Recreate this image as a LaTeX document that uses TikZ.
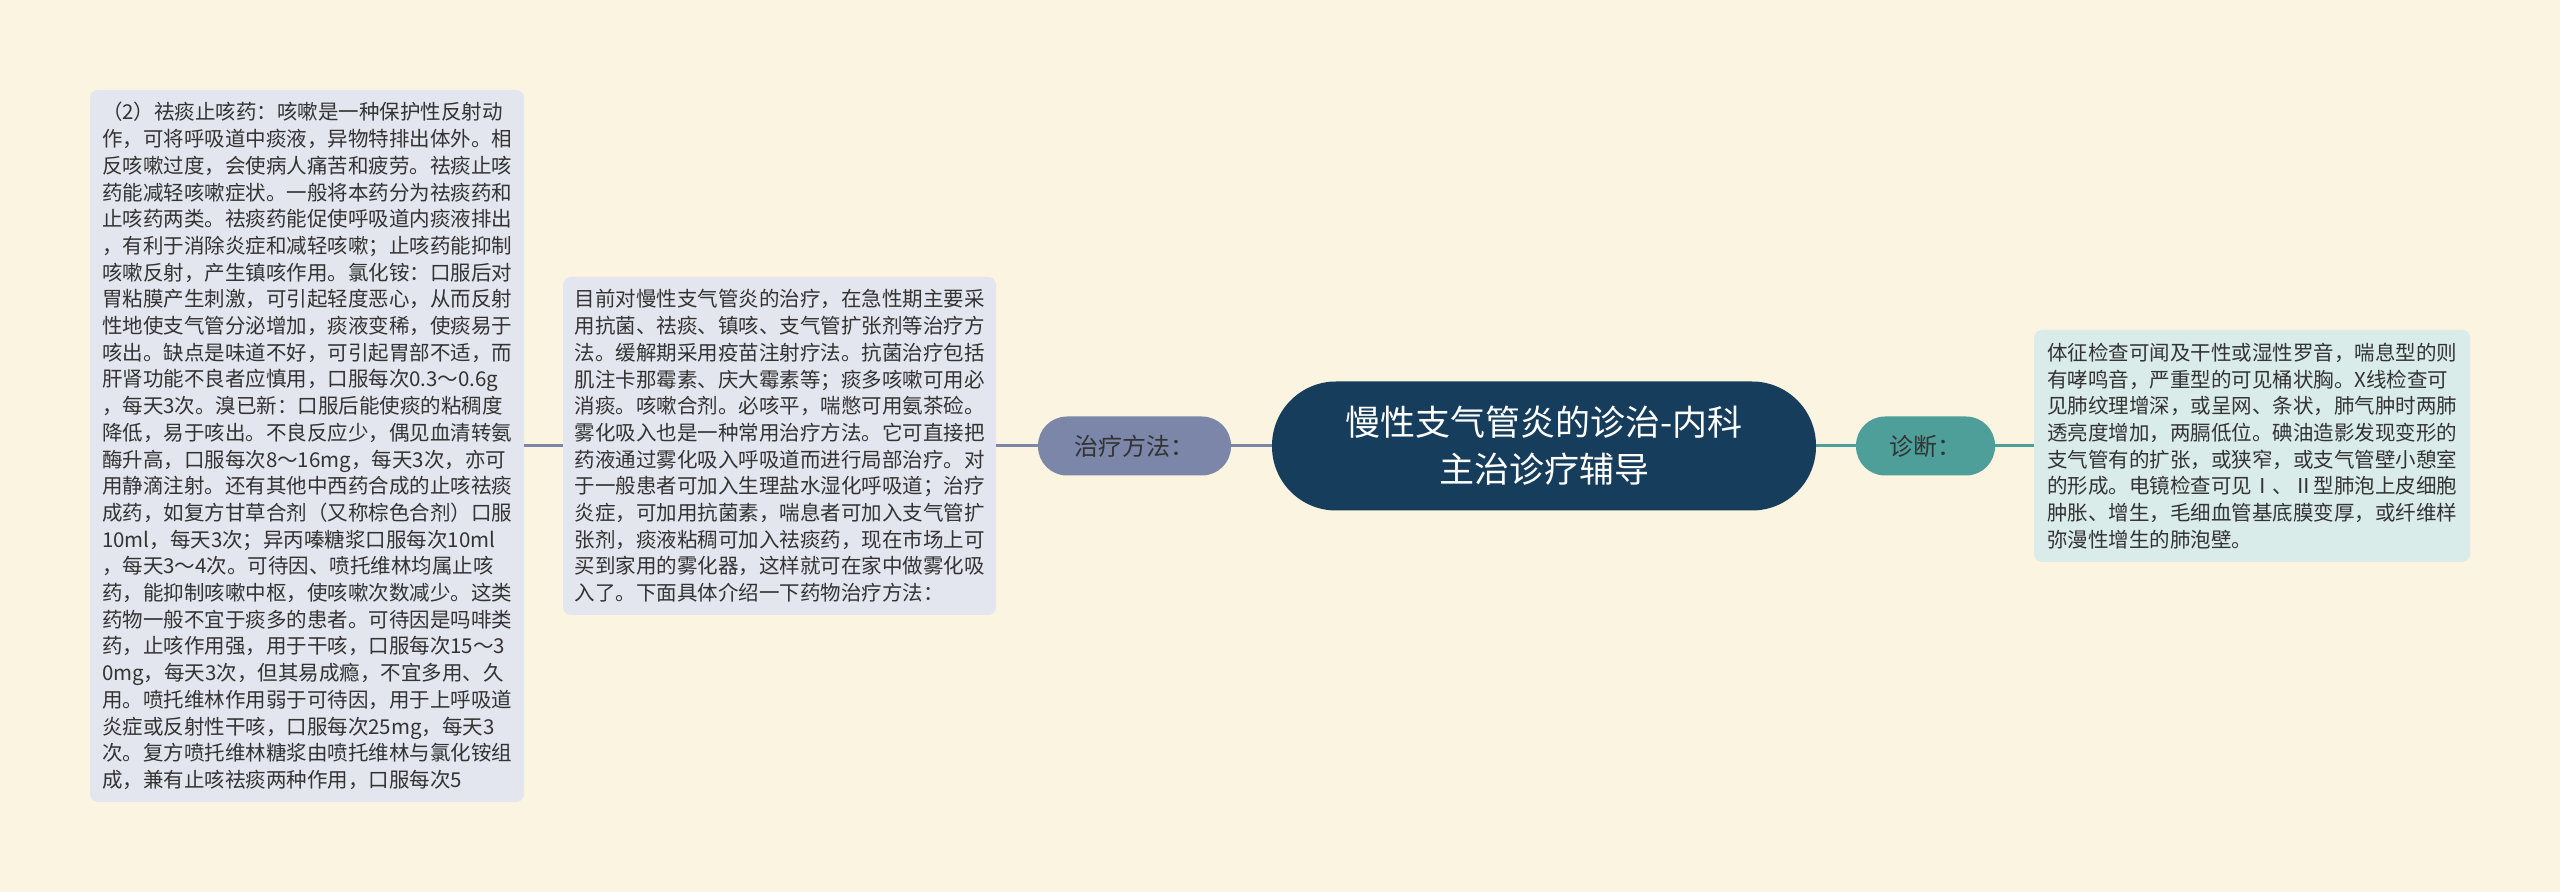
\documentclass[tikz,border=0pt]{standalone}
\usepackage{fontspec}
\newfontfamily\cjk{Noto Sans CJK SC}
\usetikzlibrary{positioning}
\definecolor{bgcream}{HTML}{FAF4E0}
\definecolor{rootblue}{HTML}{173D5C}
\definecolor{treatgray}{HTML}{7B86A8}
\definecolor{diagteal}{HTML}{4E9E9A}
\definecolor{boxgray}{HTML}{E3E6EE}
\definecolor{boxteal}{HTML}{DAECE9}
\definecolor{textgray}{HTML}{333333}

\begin{document}
\begin{tikzpicture}[x=0.5pt, y=-0.5pt,
  box/.style={rounded corners=4pt, inner sep=0pt, align=left, text=textgray,
    font=\cjk\fontsize{10.25pt}{13.35pt}\selectfont},
  pill/.style={rounded corners=14.5pt, inner sep=0pt, minimum height=29.5pt,
    text=textgray, font=\cjk\fontsize{12pt}{14pt}\selectfont},
  treatline/.style={draw=treatgray, line width=1.5pt},
  diagline/.style={draw=diagteal, line width=1.5pt}] % 1px = 0.5pt

\fill[bgcream] (0,0) rectangle (2560,892);
\useasboundingbox (0,0) rectangle (2560,892);

\node[fill=rootblue, rounded corners=32pt, inner sep=0pt, minimum width=272pt, minimum height=64.5pt,
  text=white, align=center, font=\cjk\fontsize{17.5pt}{23.5pt}\selectfont] (root) at (1544,446)
  {慢性支气管炎的诊治-内科\\主治诊疗辅导};

\node[pill, fill=treatgray, minimum width=96.5pt] (treat) at (1134.5,446) {治疗方法：};
\node[pill, fill=diagteal, minimum width=69.5pt] (diag) at (1925.5,446) {诊断：};

\node[box, fill=boxgray, minimum width=216.5pt, minimum height=169pt] (treatbox) at (779.5,446) {%
目前对慢性支气管炎的治疗，在急性期主要采\\
用抗菌、祛痰、镇咳、支气管扩张剂等治疗方\\
法。缓解期采用疫苗注射疗法。抗菌治疗包括\\
肌注卡那霉素、庆大霉素等；痰多咳嗽可用必\\
消痰。咳嗽合剂。必咳平，喘憋可用氨茶硷。\\
雾化吸入也是一种常用治疗方法。它可直接把\\
药液通过雾化吸入呼吸道而进行局部治疗。对\\
于一般患者可加入生理盐水湿化呼吸道；治疗\\
炎症，可加用抗菌素，喘息者可加入支气管扩\\
张剂，痰液粘稠可加入祛痰药，现在市场上可\\
买到家用的雾化器，这样就可在家中做雾化吸\\
入了。下面具体介绍一下药物治疗方法：};

\node[box, fill=boxgray, minimum width=217pt, minimum height=356pt] (drugbox) at (307,446) {%
（2）祛痰止咳药：咳嗽是一种保护性反射动\\
作，可将呼吸道中痰液，异物特排出体外。相\\
反咳嗽过度，会使病人痛苦和疲劳。祛痰止咳\\
药能减轻咳嗽症状。一般将本药分为祛痰药和\\
止咳药两类。祛痰药能促使呼吸道内痰液排出\\
，有利于消除炎症和减轻咳嗽；止咳药能抑制\\
咳嗽反射，产生镇咳作用。氯化铵：口服后对\\
胃粘膜产生刺激，可引起轻度恶心，从而反射\\
性地使支气管分泌增加，痰液变稀，使痰易于\\
咳出。缺点是味道不好，可引起胃部不适，而\\
肝肾功能不良者应慎用，口服每次0.3～0.6g\\
，每天3次。溴已新：口服后能使痰的粘稠度\\
降低，易于咳出。不良反应少，偶见血清转氨\\
酶升高，口服每次8～16mg，每天3次，亦可\\
用静滴注射。还有其他中西药合成的止咳祛痰\\
成药，如复方甘草合剂（又称棕色合剂）口服\\
10ml，每天3次；异丙嗪糖浆口服每次10ml\\
，每天3～4次。可待因、喷托维林均属止咳\\
药，能抑制咳嗽中枢，使咳嗽次数减少。这类\\
药物一般不宜于痰多的患者。可待因是吗啡类\\
药，止咳作用强，用于干咳，口服每次15～3\\
0mg，每天3次，但其易成瘾，不宜多用、久\\
用。喷托维林作用弱于可待因，用于上呼吸道\\
炎症或反射性干咳，口服每次25mg，每天3\\
次。复方喷托维林糖浆由喷托维林与氯化铵组\\
成，兼有止咳祛痰两种作用，口服每次5};

\node[box, fill=boxteal, minimum width=218pt, minimum height=116pt] (diagbox) at (2252,446) {%
体征检查可闻及干性或湿性罗音，喘息型的则\\
有哮鸣音，严重型的可见桶状胸。X线检查可\\
见肺纹理增深，或呈网、条状，肺气肿时两肺\\
透亮度增加，两膈低位。碘油造影发现变形的\\
支气管有的扩张，或狭窄，或支气管壁小憩室\\
的形成。电镜检查可见Ⅰ、Ⅱ型肺泡上皮细胞\\
肿胀、增生，毛细血管基底膜变厚，或纤维样\\
弥漫性增生的肺泡壁。};

\draw[treatline] (root.west) -- (treat.east);
\draw[treatline] (treat.west) -- (treatbox.east);
\draw[treatline] (treatbox.west) -- (drugbox.east);
\draw[diagline] (root.east) -- (diag.west);
\draw[diagline] (diag.east) -- (diagbox.west);

\end{tikzpicture}
\end{document}
